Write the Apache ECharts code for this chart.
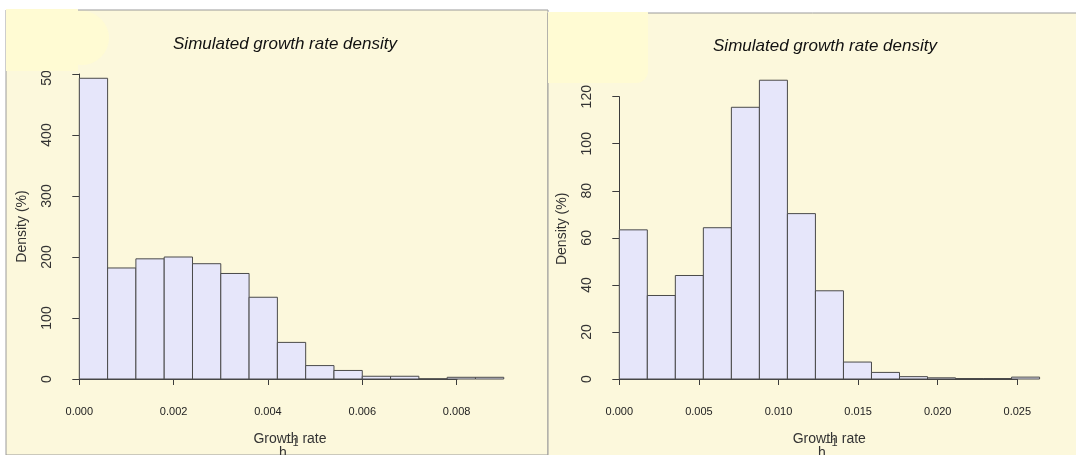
<!DOCTYPE html>
<html>
<head>
<meta charset="utf-8">
<script src="https://cdn.jsdelivr.net/npm/echarts@6/dist/echarts.min.js"></script>
<style>html,body{margin:0;padding:0;background:#ffffff;}#c{width:1076px;height:455px;}</style>
</head>
<body>
<div id="c"></div>
<script>
// Left histogram: bin breaks and density values
var leftBreaks = [0, 0.0006, 0.0012, 0.0018, 0.0024, 0.003, 0.0036, 0.0042, 0.0048, 0.0054, 0.006, 0.0066, 0.0072, 0.0078, 0.0084, 0.009];
var leftDensity = [493, 182, 197, 200, 189, 173, 134, 60, 22, 14, 4.5, 4.5, 0, 2.8, 2.8];
var leftXTicks = [0, 0.002, 0.004, 0.006, 0.008];
var leftYTicks = [0, 100, 200, 300, 400, 500];
var leftBaselineEnd = 0.00935;

// Right histogram: bin breaks and density values
var rightBreaks = [0, 0.00176, 0.00352, 0.00528, 0.00704, 0.0088, 0.01056, 0.01232, 0.01408, 0.01584, 0.0176, 0.01936, 0.02112, 0.02288, 0.02464, 0.0264];
var rightDensity = [63.4, 35.5, 44, 64.3, 115.5, 127, 70.3, 37.5, 7.2, 2.8, 1.0, 0.5, 0.2, 0.2, 0.8];
var rightXTicks = [0, 0.005, 0.01, 0.015, 0.02, 0.025];
var rightYTicks = [0, 20, 40, 60, 80, 100, 120];
var rightBaselineEnd = 0.0275;

var titleText = 'Simulated growth rate density';
var xName = 'Growth rate';
var yName = 'Density (%)';

function binData(breaks, vals) {
  var out = [];
  for (var i = 0; i < vals.length; i++) out.push([breaks[i], breaks[i + 1], vals[i]]);
  return out;
}
function renderBin(params, api) {
  var p0 = api.coord([api.value(0), 0]);
  var p1 = api.coord([api.value(1), api.value(2)]);
  return {
    type: 'rect',
    shape: { x: p0[0], y: p1[1], width: p1[0] - p0[0], height: p0[1] - p1[1] },
    style: { fill: '#e6e6fa', stroke: '#4a4a4a', lineWidth: 1 }
  };
}
var FONT = '"Liberation Sans", Arial, sans-serif';
var axisCol = '#3c3c3c';
function xAx(idx, ticks, namePad) {
  return {
    type: 'value', gridIndex: idx, min: ticks[0], max: ticks[ticks.length - 1],
    interval: ticks[1] - ticks[0], offset: 13,
    axisLine: { show: true, lineStyle: { color: axisCol, width: 1 } },
    axisTick: { show: true, length: 6, lineStyle: { color: axisCol } },
    axisLabel: { margin: 14, fontSize: 11, fontFamily: FONT, color: '#222',
      formatter: function (v) { return v.toFixed(3); } },
    splitLine: { show: false },
    name: xName, nameLocation: 'middle', nameGap: 40,
    nameTextStyle: { fontSize: 14, fontFamily: FONT, color: '#333', padding: [0, 0, 0, namePad] }
  };
}
function yAx(idx, ticks, namePad) {
  return {
    type: 'value', gridIndex: idx, min: ticks[0], max: ticks[ticks.length - 1],
    interval: ticks[1] - ticks[0], offset: 16,
    axisLine: { show: true, lineStyle: { color: axisCol, width: 1 } },
    axisTick: { show: true, length: 7, lineStyle: { color: axisCol } },
    axisLabel: { rotate: 90, margin: 9, fontSize: 14, fontFamily: FONT, color: '#333' },
    splitLine: { show: false },
    name: yName, nameLocation: 'middle', nameGap: 34,
    nameTextStyle: { fontSize: 14, fontFamily: FONT, color: '#333', padding: [0, 0, 0, namePad] }
  };
}

var chart = echarts.init(document.getElementById('c'), null, { renderer: 'canvas' });
var bg = '#fcf8dc';
var blob = '#fffbd3';
chart.setOption({
  backgroundColor: '#ffffff',
  animation: false,
  title: [
    { text: titleText, left: 280, top: 31, textAlign: 'center',
      textStyle: { fontSize: 17, fontStyle: 'italic', fontWeight: 'normal', fontFamily: FONT, color: '#111' } },
    { text: titleText, left: 820, top: 33, textAlign: 'center',
      textStyle: { fontSize: 17, fontStyle: 'italic', fontWeight: 'normal', fontFamily: FONT, color: '#111' } }
  ],
  grid: [
    { left: 79.3, top: 74, width: 377.3, height: 305 },
    { left: 619.3, top: 96.7, width: 398, height: 282.3 }
  ],
  xAxis: [xAx(0, leftXTicks, 44), xAx(1, rightXTicks, 22)],
  yAxis: [yAx(0, leftYTicks, 0), yAx(1, rightYTicks, 18)],
  graphic: [
    { type: 'rect', z: -10, shape: { x: 6, y: 10, width: 542, height: 445 }, style: { fill: bg, stroke: '#9a9a9a', lineWidth: 1 }, silent: true },
    { type: 'rect', z: -10, shape: { x: 548, y: 13, width: 530, height: 445 }, style: { fill: bg, stroke: '#9a9a9a', lineWidth: 1 }, silent: true },
    { type: 'rect', z: 100, shape: { x: 6, y: 9, width: 72, height: 62 }, style: { fill: blob }, silent: true },
    { type: 'circle', z: 100, shape: { cx: 82, cy: 38, r: 27 }, style: { fill: blob }, silent: true },
    { type: 'rect', z: 100, shape: { x: 548, y: 12, width: 100, height: 71, r: [0, 0, 12, 0] }, style: { fill: blob }, silent: true },
    { type: 'text', z: 50, left: 279, top: 446, style: { text: 'h', fontSize: 14, fontFamily: FONT, fill: '#333' } },
    { type: 'text', z: 50, left: 286, top: 437, style: { text: '\u22121', fontSize: 11, fontFamily: FONT, fill: '#333' } },
    { type: 'text', z: 50, left: 818, top: 446, style: { text: 'h', fontSize: 14, fontFamily: FONT, fill: '#333' } },
    { type: 'text', z: 50, left: 825, top: 437, style: { text: '\u22121', fontSize: 11, fontFamily: FONT, fill: '#333' } }
  ],
  series: [
    { type: 'line', xAxisIndex: 0, yAxisIndex: 0, data: [[0, 0], [leftBaselineEnd, 0]], symbol: 'none', clip: false,
      lineStyle: { color: '#4a4a4a', width: 1 }, z: 1 },
    { type: 'custom', xAxisIndex: 0, yAxisIndex: 0, data: binData(leftBreaks, leftDensity), renderItem: renderBin, clip: false, z: 2 },
    { type: 'line', xAxisIndex: 1, yAxisIndex: 1, data: [[0, 0], [rightBaselineEnd, 0]], symbol: 'none', clip: false,
      lineStyle: { color: '#4a4a4a', width: 1 }, z: 1 },
    { type: 'custom', xAxisIndex: 1, yAxisIndex: 1, data: binData(rightBreaks, rightDensity), renderItem: renderBin, clip: false, z: 2 }
  ]
});
</script>
</body>
</html>
